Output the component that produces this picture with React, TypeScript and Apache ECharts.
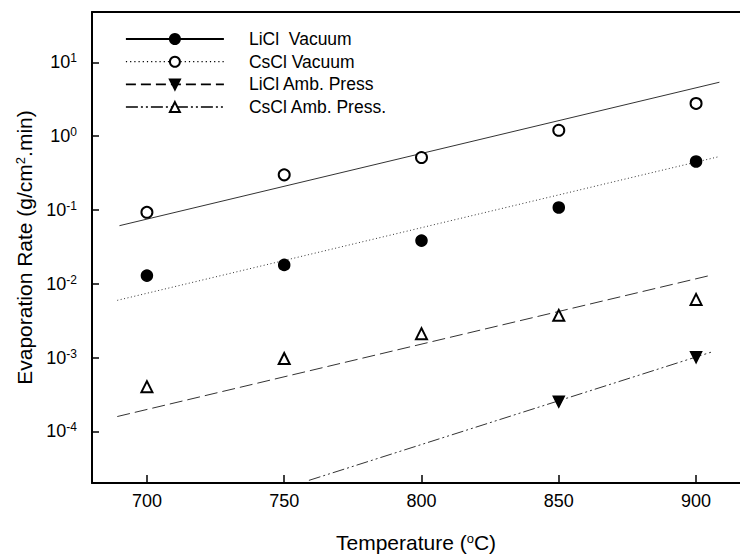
import React, { useEffect, useRef } from 'react';
import * as echarts from 'echarts';

// Temperatures (°C)
const temperatures = [700, 750, 800, 850, 900];
const liclAmbTemps = [850, 900];

// Measured evaporation rates (g/cm2.min)
const liclVacuum = [0.0129, 0.018, 0.0384, 0.108, 0.453];
const csclVacuum = [0.0929, 0.299, 0.513, 1.2, 2.77];
const liclAmbPress = [2.53e-4, 1.01e-3];
const csclAmbPress = [4.04e-4, 9.7e-4, 2.11e-3, 3.73e-3, 6.14e-3];

// Fitted lines (start / end) as drawn in the figure
const fitSolidX = [690, 908.5];
const fitSolidY = [0.0612, 5.37];
const fitDottedX = [689.2, 908.5];
const fitDottedY = [0.00596, 0.529];
const fitDashedX = [689.2, 906];
const fitDashedY = [1.59e-4, 0.0132];
const fitDashDotX = [759, 906];
const fitDashDotY = [2.17e-5, 1.2e-3];

const legendNames = ['LiCl  Vacuum', 'CsCl Vacuum', 'LiCl Amb. Press', 'CsCl Amb. Press.'];

const FONT = '"Liberation Sans", Arial, Helvetica, sans-serif';
const DASH_DOT: number[] = [12, 3, 2, 3, 2, 3];

function pairs(xs: number[], ys: number[]) {
  return xs.map((x, i) => [x, ys[i]]);
}

function dataSeries(name: string, xs: number[], ys: number[], symbol: string, rotate: number) {
  return {
    name,
    type: 'line',
    data: pairs(xs, ys),
    symbol,
    symbolSize: 11,
    symbolRotate: rotate,
    lineStyle: { opacity: 0, width: 0 },
    itemStyle: { color: '#000', borderColor: '#000', borderWidth: 1.5 },
    z: 5,
    silent: true,
    emphasis: { disabled: true },
  };
}

function fitSeries(name: string, xs: number[], ys: number[], type: any, width: number) {
  return {
    name,
    type: 'line',
    data: pairs(xs, ys),
    symbol: 'none',
    lineStyle: { color: '#333', width, type },
    z: 3,
    silent: true,
    emphasis: { disabled: true },
  };
}

export default function App() {
  const ref = useRef<HTMLDivElement>(null);

  useEffect(() => {
    if (!ref.current) return;
    const chart = echarts.init(ref.current, null, { renderer: 'svg' });
    const option: any = {
      animation: false,
      textStyle: { fontFamily: FONT, color: '#000' },
      grid: { left: 92, right: 0, top: 12, bottom: 73, containLabel: false },
      legend: {
        orient: 'vertical',
        left: 125,
        top: 30,
        padding: 0,
        itemGap: 4.7,
        itemWidth: 98,
        itemHeight: 12.5,
        selectedMode: false,
        textStyle: { fontSize: 17.5, color: '#000', fontFamily: FONT, lineHeight: 18, padding: [0, 0, 0, 20] },
        data: [
          { name: legendNames[0], lineStyle: { type: 'solid', width: 1.8, opacity: 1, color: '#000' } },
          { name: legendNames[1], lineStyle: { type: [1.2, 3], width: 1.2, opacity: 1, color: '#000' } },
          { name: legendNames[2], lineStyle: { type: [10, 5], width: 1.8, opacity: 1, color: '#000' } },
          { name: legendNames[3], lineStyle: { type: DASH_DOT, width: 1.5, opacity: 1, color: '#000' } },
        ],
      },
      xAxis: [
        {
          type: 'value',
          min: 680,
          max: 916,
          position: 'bottom',
          name: 'Temperature ({s|o}C)',
          nameLocation: 'middle',
          nameGap: 49,
          nameTextStyle: {
            fontSize: 21,
            color: '#000',
            fontFamily: FONT,
            rich: { s: { fontSize: 13, verticalAlign: 'top', color: '#000', fontFamily: FONT } },
          },
          axisLine: { onZero: false, lineStyle: { color: '#000', width: 2 } },
          axisTick: { inside: true, length: 8, lineStyle: { color: '#000', width: 1.5 } },
          axisLabel: {
            margin: 9,
            fontSize: 18,
            color: '#000',
            fontFamily: FONT,
            showMinLabel: false,
            showMaxLabel: false,
            formatter: (v: number) => (Math.abs(v % 50) < 1e-9 ? String(v) : ''),
          },
          splitLine: { show: false },
        },
        {
          type: 'value',
          min: 680,
          max: 916,
          position: 'top',
          axisLine: { show: true, onZero: false, lineStyle: { color: '#000', width: 2 } },
          axisTick: { show: false },
          axisLabel: { show: false },
          splitLine: { show: false },
        },
      ],
      yAxis: {
        type: 'log',
        logBase: 10,
        min: 2e-5,
        max: 48,
        name: 'Evaporation Rate (g/cm{s|2}.min)',
        nameLocation: 'middle',
        nameGap: 56,
        nameTextStyle: {
          fontSize: 21,
          color: '#000',
          fontFamily: FONT,
          rich: { s: { fontSize: 13, verticalAlign: 'top', color: '#000', fontFamily: FONT } },
        },
        axisLine: { show: true, onZero: false, lineStyle: { color: '#000', width: 2 } },
        axisTick: { inside: true, length: 7, lineStyle: { color: '#000', width: 1.5 } },
        axisLabel: {
          margin: 15,
          color: '#000',
          fontFamily: FONT,
          showMinLabel: false,
          showMaxLabel: false,
          formatter: (v: number) => {
            const e = Math.log10(v);
            const r = Math.round(e);
            if (Math.abs(e - r) > 1e-6) return '';
            return `{b|10}{s|${r}}`;
          },
          rich: {
            b: { fontSize: 18, color: '#000', fontFamily: FONT, lineHeight: 20 },
            s: { fontSize: 12, color: '#000', fontFamily: FONT, verticalAlign: 'top' },
          },
        },
        splitLine: { show: false },
        minorTick: { show: false },
      },
      series: [
        fitSeries('LiCl Vacuum fit', fitSolidX, fitSolidY, 'solid', 1),
        fitSeries('CsCl Vacuum fit', fitDottedX, fitDottedY, [1, 2.5], 1),
        fitSeries('LiCl Amb. Press fit', fitDashedX, fitDashedY, [13, 5], 1),
        fitSeries('CsCl Amb. Press. fit', fitDashDotX, fitDashDotY, DASH_DOT, 1),
        dataSeries(legendNames[0], temperatures, liclVacuum, 'circle', 0),
        dataSeries(legendNames[1], temperatures, csclVacuum, 'emptyCircle', 0),
        dataSeries(legendNames[2], liclAmbTemps, liclAmbPress, 'triangle', 180),
        dataSeries(legendNames[3], temperatures, csclAmbPress, 'emptyTriangle', 0),
      ],
    };
    chart.setOption(option);
    return () => chart.dispose();
  }, []);

  return (
    <div
      ref={ref}
      style={{ position: 'absolute', left: 0, top: 0, width: 740, height: 558, background: '#fff' }}
    />
  );
}
